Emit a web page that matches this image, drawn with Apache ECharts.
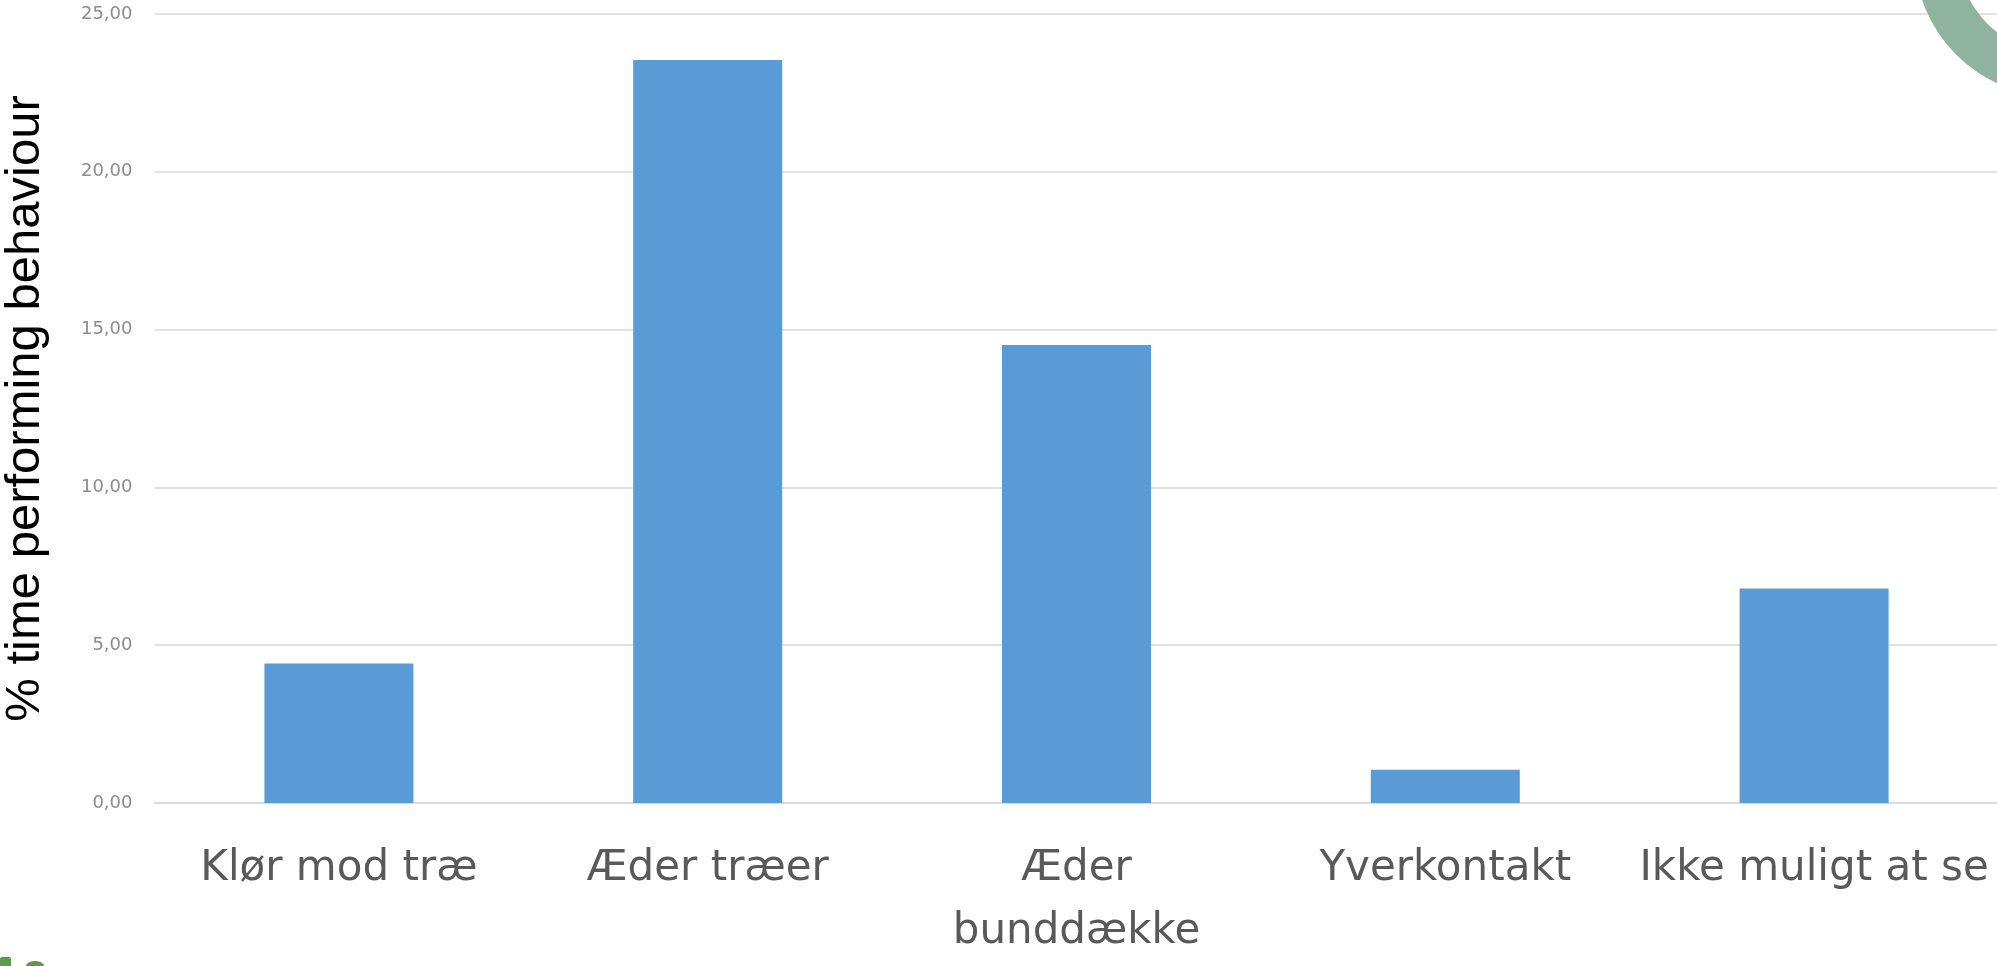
<!DOCTYPE html>
<html>
<head>
<meta charset="utf-8">
<script src="https://cdn.jsdelivr.net/npm/echarts@6/dist/echarts.min.js"></script>
<style>
  html, body { margin: 0; padding: 0; background: #fff; }
  #chart { width: 1997px; height: 966px; }
</style>
</head>
<body>
<div id="chart"></div>
<script>
// behaviour categories and % time values
const categories = ['Klør mod træ', 'Æder træer', 'Æder\nbunddække', 'Yverkontakt', 'Ikke muligt at se']
const values = [4.42, 23.54, 14.51, 1.05, 6.80]
const yTicks = [0, 5, 10, 15, 20, 25]

const barColor = '#5B9BD5'
const gridColor = '#D9D9D9'

const chart = echarts.init(document.getElementById('chart'))

const option = {
  animation: false,
  grid: {
    left: 154.5,
    top: 14,
    width: 1844,
    bottom: 163,
    outerBoundsMode: 'none'
  },
  xAxis: {
    type: 'category',
    data: categories,
    axisTick: { show: false },
    axisLine: {
      show: true,
      lineStyle: { color: gridColor, width: 1.5 }
    },
    axisLabel: {
      interval: 0,
      margin: 35,
      color: '#595959',
      fontFamily: 'DejaVu Sans',
      fontSize: 42,
      lineHeight: 63
    }
  },
  yAxis: {
    type: 'value',
    min: yTicks[0],
    max: yTicks[yTicks.length - 1],
    interval: 5,
    name: '% time performing behaviour',
    nameLocation: 'middle',
    nameGap: 105,
    nameTextStyle: {
      color: '#000',
      fontFamily: 'Liberation Sans',
      fontSize: 49
    },
    axisLine: { show: false },
    axisTick: { show: false },
    axisLabel: {
      margin: 22,
      color: '#8C8C8C',
      fontFamily: 'DejaVu Sans',
      fontSize: 18,
      formatter: (v) => v.toFixed(2).replace('.', ',')
    },
    splitLine: {
      show: true,
      lineStyle: { color: gridColor, width: 1.5 }
    }
  },
  series: [
    {
      type: 'bar',
      data: values,
      barWidth: 149,
      itemStyle: { color: barColor }
    }
  ],
  graphic: [
    // logo fragment in the top right corner
    {
      type: 'ring',
      shape: { cx: 2057, cy: -46, r: 142.5, r0: 98.5 },
      style: { fill: '#8FB3A0' },
      z: 10
    },
    // logo fragments in the bottom left corner
    {
      type: 'rect',
      shape: { x: 0, y: 957, width: 11, height: 10, r: 2 },
      style: { fill: '#5E9A4C' }
    },
    {
      type: 'ellipse',
      shape: { cx: 35, cy: 966, rx: 9, ry: 5 },
      style: { fill: '#5E9A4C' }
    }
  ]
}

chart.setOption(option)
window.addEventListener('resize', () => chart.resize())
</script>
</body>
</html>
